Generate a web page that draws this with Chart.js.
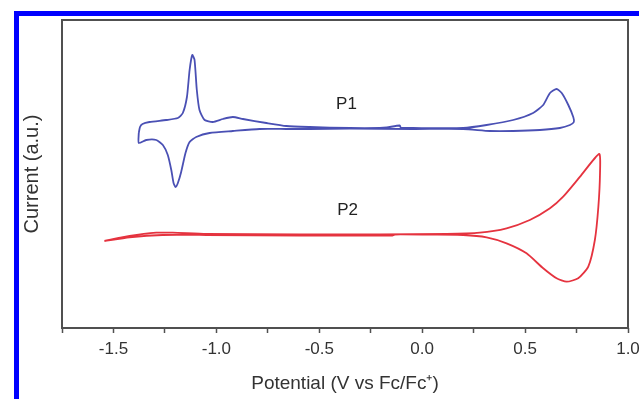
<!DOCTYPE html>
<html>
<head>
<meta charset="utf-8">
<script src="https://cdn.jsdelivr.net/npm/chart.js@4.4.0/dist/chart.umd.min.js"></script>
<style>
  body { margin: 0; background: #fff; overflow: hidden; }
  #wrap { position: relative; width: 639px; height: 399px; }
  #cv { position: absolute; left: 0; top: 0; }
  #edge { position: absolute; left: 14px; top: 11px; width: 700px; height: 500px;
          border-top: 5px solid #0000ff; border-left: 5px solid #0000ff; pointer-events: none; }
</style>
</head>
<body>
<div id="wrap">
  <canvas id="cv" width="639" height="399"></canvas>
  <div id="edge"></div>
</div>
<script>
// P1 cyclic voltammogram (potential V vs Fc/Fc+, current a.u.)
const p1Potential = [-1.377, -1.371, -1.359, -1.325, -1.244, -1.187, -1.163, -1.143, -1.130, -1.117,
  -1.106, -1.095, -1.082, -1.057, -1.017, -0.968, -0.920, -0.871, -0.757, -0.660,
  -0.547, -0.352, -0.206, -0.172, -0.109, -0.104, -0.044, 0.199, 0.313, 0.442,
  0.539, 0.588, 0.621, 0.653, 0.678, 0.710, 0.734, 0.737, 0.718, 0.669,
  0.572, 0.442, 0.329, 0.199, -0.044, -0.352, -0.547, -0.660, -0.790, -0.920,
  -1.033, -1.098, -1.130, -1.150, -1.171, -1.187, -1.198, -1.208, -1.219, -1.236,
  -1.260, -1.292, -1.341, -1.377, -1.377];
const p1Current = [19.4, 20.0, 20.3, 20.5, 20.7, 20.9, 21.4, 23.0, 25.7, 27.2,
  26.7, 23.7, 21.7, 20.7, 20.5, 20.8, 21.0, 20.8, 20.4, 20.1,
  20.0, 19.9, 19.9, 19.95, 20.15, 19.93, 19.9, 19.9, 20.2, 20.7,
  21.4, 22.2, 23.4, 23.8, 23.4, 22.2, 21.0, 20.5, 20.2, 19.9,
  19.7, 19.6, 19.6, 19.8, 19.8, 19.85, 19.8, 19.8, 19.8, 19.6,
  19.4, 19.0, 18.5, 17.4, 15.5, 14.4, 14.0, 14.4, 15.7, 17.2,
  18.2, 18.7, 18.7, 18.4, 19.4];

// P2 cyclic voltammogram
const p2Potential = [-1.544, -1.422, -1.292, -1.212, -1.049, -0.595, -0.206, 0.118, 0.280, 0.410,
  0.523, 0.621, 0.685, 0.767, 0.860, 0.864, 0.856, 0.839, 0.807, 0.758,
  0.702, 0.653, 0.588, 0.507, 0.410, 0.313, 0.199, 0.037, -0.133, -0.148,
  -0.595, -1.049, -1.262, -1.422, -1.544];
const p2Current = [8.6, 9.1, 9.43, 9.43, 9.3, 9.27, 9.27, 9.3, 9.43, 9.87,
  10.7, 11.87, 13.03, 15.03, 17.3, 15.37, 12.03, 8.7, 6.03, 4.87,
  4.53, 4.87, 5.87, 7.37, 8.37, 8.97, 9.2, 9.23, 9.25, 9.13,
  9.15, 9.2, 9.2, 8.97, 8.6];

const curveNames = ['P1', 'P2'];
const nameX = [-0.368, -0.362];
const nameY = [22.3, 11.7];
const majorTicks = [-1.5, -1.0, -0.5, 0.0, 0.5, 1.0];

const toPoints = (xs, ys) => xs.map((x, i) => ({ x: x, y: ys[i] }));

const FONT = '"Liberation Sans", Arial, sans-serif';

// frame round the plot and the P1 / P2 names
const framePlugin = {
  id: 'frame',
  afterDatasetsDraw(chart) {
    const { ctx, chartArea: a, scales } = chart;
    ctx.save();
    ctx.strokeStyle = '#505050';
    ctx.lineWidth = 2;
    ctx.strokeRect(a.left, a.top, a.right - a.left, a.bottom - a.top);
    ctx.font = '17px ' + FONT;
    ctx.fillStyle = '#222';
    ctx.textAlign = 'center';
    ctx.textBaseline = 'middle';
    curveNames.forEach((n, i) => {
      ctx.fillText(n, scales.x.getPixelForValue(nameX[i]), scales.y.getPixelForValue(nameY[i]));
    });
    ctx.restore();
  }
};

new Chart(document.getElementById('cv'), {
  type: 'scatter',
  data: {
    datasets: [
      {
        label: curveNames[0],
        data: toPoints(p1Potential, p1Current),
        showLine: true,
        borderColor: '#4a50b4',
        borderWidth: 1.8,
        pointRadius: 0,
        tension: 0.2
      },
      {
        label: curveNames[1],
        data: toPoints(p2Potential, p2Current),
        showLine: true,
        borderColor: '#e5333f',
        borderWidth: 1.8,
        pointRadius: 0,
        tension: 0.2
      }
    ]
  },
  options: {
    responsive: false,
    animation: false,
    layout: { padding: { left: 20, right: 11, top: 20, bottom: 0 } },
    plugins: { legend: { display: false }, tooltip: { enabled: false } },
    scales: {
      x: {
        type: 'linear',
        min: -1.75,
        max: 1.0,
        afterFit(scale) {
          scale.height = 71;
          scale.paddingRight = 0; // let the "1.0" label run off the edge like the original
        },
        border: { display: false },
        grid: { drawOnChartArea: false, drawTicks: true, tickLength: 5, tickColor: '#505050', tickWidth: 1.5 },
        ticks: {
          stepSize: 0.25,
          autoSkip: false,
          maxRotation: 0,
          padding: 6,
          color: '#333',
          font: { family: FONT, size: 17 },
          callback: (v) => majorTicks.some(t => Math.abs(t - v) < 1e-6) ? v.toFixed(1) : ''
        },
        title: {
          display: true,
          text: 'Potential (V vs Fc/Fc\u207A)',
          color: '#333',
          font: { family: FONT, size: 19 },
          padding: { top: 4, bottom: 4 }
        }
      },
      y: {
        type: 'linear',
        min: -0.1,
        max: 30.7,
        afterFit(scale) { scale.width = 42; },
        border: { display: false },
        grid: { display: false },
        ticks: { display: false },
        title: {
          display: true,
          text: 'Current (a.u.)',
          color: '#333',
          font: { family: FONT, size: 20 },
          padding: 0
        }
      }
    }
  },
  plugins: [framePlugin]
});
</script>
</body>
</html>
